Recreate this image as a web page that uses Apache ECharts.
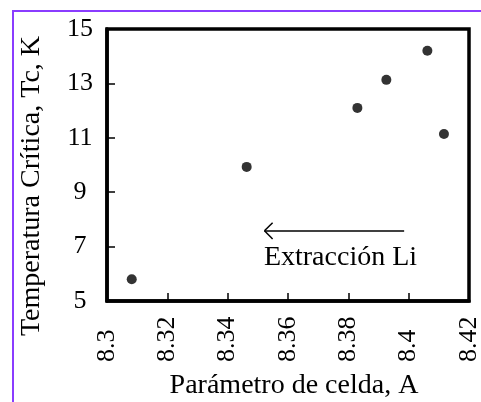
<!DOCTYPE html>
<html>
<head>
<meta charset="utf-8">
<script src="https://cdn.jsdelivr.net/npm/echarts@6/dist/echarts.min.js"></script>
<style>
  html, body { margin: 0; padding: 0; background: #fff; }
  #chart { width: 481px; height: 402px; }
  #frame {
    position: absolute; left: 12px; top: 10px; right: 0; bottom: 0;
    border-left: 2px solid #8a3cff; border-top: 2px solid #8a3cff;
    pointer-events: none;
  }
</style>
</head>
<body>
<div id="chart"></div>
<div id="frame"></div>
<script>
// Lattice parameter (A) vs. critical temperature Tc (K)
const cellParam = [8.3082, 8.3463, 8.3830, 8.3926, 8.4062, 8.4117];
const tcValues  = [5.80, 9.93, 12.10, 13.13, 14.20, 11.14];

const xTickLabels = ['8.3', '8.32', '8.34', '8.36', '8.38', '8.4', '8.42'];
const yTickLabels = ['5', '7', '9', '11', '13', '15'];

const xTitle = 'Parámetro de celda, A';
const yTitle = 'Temperatura Crítica, Tc, K';

// Annotation: arrow pointing towards smaller lattice parameter
const arrowTail = [8.3985, 7.58];
const arrowTip  = [8.3522, 7.58];
const arrowHead = [0.0027, 0.30];
const noteText  = 'Extracción Li';
const noteAt    = [8.3774, 6.58];

const X_MIN = 8.3, X_MAX = 8.42, X_STEP = 0.02;
const Y_MIN = 5, Y_MAX = 15, Y_STEP = 2;
const FONT = 'Liberation Serif';

const points = cellParam.map((x, i) => [x, tcValues[i]]);
const lineStyle = { color: '#000', width: 1.5, type: 'solid' };
const seg = (a, b) => [{ coord: a }, { coord: b }];
const titleStyle = { fontFamily: FONT, fontSize: 28, fill: '#000', align: 'center', verticalAlign: 'middle' };

const chart = echarts.init(document.getElementById('chart'), null, { renderer: 'canvas' });
chart.setOption({
  animation: false,
  backgroundColor: 'transparent',
  grid: {
    left: 107, right: 12, top: 29, bottom: 101,
    outerBoundsMode: 'none', containLabel: false,
    show: true, borderColor: '#000', borderWidth: 3.5, backgroundColor: '#fff'
  },
  xAxis: {
    type: 'value', min: X_MIN, max: X_MAX, interval: X_STEP,
    axisLine: { show: true, lineStyle: { color: '#000', width: 3.5 } },
    axisTick: { show: true, inside: true, length: 8, lineStyle: { color: '#000', width: 1.5 } },
    splitLine: { show: false },
    axisLabel: {
      rotate: 90, align: 'left', margin: 61,
      fontFamily: FONT, fontSize: 26, color: '#000',
      formatter: v => xTickLabels[Math.round((v - X_MIN) / X_STEP)]
    }
  },
  yAxis: {
    type: 'value', min: Y_MIN, max: Y_MAX, interval: Y_STEP,
    axisLine: { show: true, lineStyle: { color: '#000', width: 3.5 } },
    axisTick: { show: true, inside: true, length: 8, lineStyle: { color: '#000', width: 1.5 } },
    splitLine: { show: false },
    axisLabel: {
      align: 'center', margin: 27,
      fontFamily: FONT, fontSize: 26, color: '#000',
      formatter: v => yTickLabels[Math.round((v - Y_MIN) / Y_STEP)]
    }
  },
  graphic: [
    { type: 'text', x: 294, y: 386, style: Object.assign({ text: xTitle }, titleStyle) },
    { type: 'text', x: 32, y: 186, rotation: Math.PI / 2, style: Object.assign({ text: yTitle }, titleStyle) }
  ],
  series: [{
    type: 'scatter',
    data: points,
    symbol: 'circle',
    symbolSize: 10,
    itemStyle: { color: '#000' },
    markLine: {
      silent: true,
      symbol: 'none',
      label: { show: false },
      lineStyle: lineStyle,
      data: [
        seg(arrowTail, arrowTip),
        seg(arrowTip, [arrowTip[0] + arrowHead[0], arrowTip[1] + arrowHead[1]]),
        seg(arrowTip, [arrowTip[0] + arrowHead[0], arrowTip[1] - arrowHead[1]])
      ]
    },
    markPoint: {
      silent: true,
      symbol: 'circle',
      symbolSize: 0,
      label: {
        show: true, position: 'inside', formatter: noteText,
        fontFamily: FONT, fontSize: 28, color: '#000'
      },
      data: [{ coord: noteAt }]
    }
  }]
});
</script>
</body>
</html>
